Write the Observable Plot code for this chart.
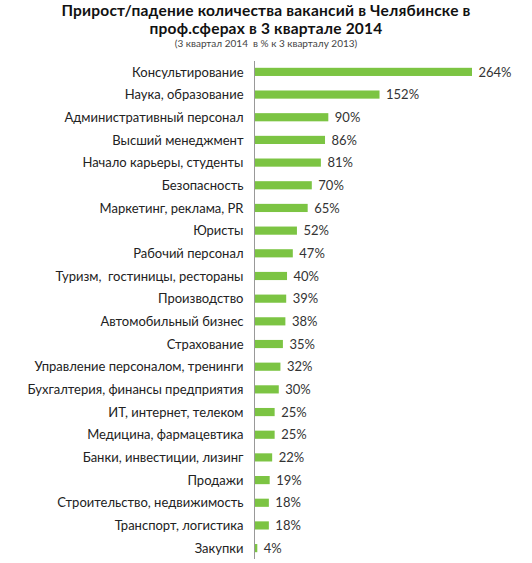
<!DOCTYPE html>
<html>
<head>
<meta charset="utf-8">
<script src="https://cdn.jsdelivr.net/npm/d3@7"></script>
<script src="https://cdn.jsdelivr.net/npm/@observablehq/plot@0.6"></script>
<style>
  body { margin: 0; background: #fff; font-family: Lato, "Open Sans", sans-serif; }
  #head { width: 532px; height: 52px; text-align: center; color: #111; }
  #head .t { font-weight: bold; font-size: 15.5px; line-height: 18px; letter-spacing: 0.2px; }
  #head .t1 { padding-top: 1px; }
  #head .s { font-size: 10px; color: #444; line-height: 12px; }
</style>
</head>
<body>
<div id="head">
  <div class="t t1">Прирост/падение количества вакансий в Челябинске в</div>
  <div class="t">проф.сферах в 3 квартале 2014</div>
  <div class="s">(3 квартал 2014&nbsp; в % к 3 кварталу 2013)</div>
</div>
<div id="chart"></div>
<script>
// профсферы, сверху вниз
const spheres = [
  "Консультирование",
  "Наука, образование",
  "Административный персонал",
  "Высший менеджмент",
  "Начало карьеры, студенты",
  "Безопасность",
  "Маркетинг, реклама, PR",
  "Юристы",
  "Рабочий персонал",
  "Туризм,  гостиницы, рестораны",
  "Производство",
  "Автомобильный бизнес",
  "Страхование",
  "Управление персоналом, тренинги",
  "Бухгалтерия, финансы предприятия",
  "ИТ, интернет, телеком",
  "Медицина, фармацевтика",
  "Банки, инвестиции, лизинг",
  "Продажи",
  "Строительство, недвижимость",
  "Транспорт, логистика",
  "Закупки"
];
// прирост, %
const growth = [264, 152, 90, 86, 81, 70, 65, 52, 47, 40, 39, 38, 35, 32, 30, 25, 25, 22, 19, 18, 18, 4];

const data = spheres.map((name, i) => ({name, value: growth[i]}));

const chart = Plot.plot({
  width: 532,
  height: 509,
  marginLeft: 254,
  marginRight: 60,
  marginTop: 9,
  marginBottom: 2,
  style: {fontFamily: "Lato, 'Open Sans', sans-serif", color: "#222"},
  x: {domain: [0, 264], axis: null},
  y: {domain: spheres, paddingInner: 0.64, paddingOuter: 0.3, round: false, label: null},
  marks: [
    Plot.axisY({tickSize: 0, tickPadding: 11, fontSize: 13, label: null}),
    Plot.barX(data, {x: "value", y: "name", fill: "#7cc443"}),
    Plot.ruleX([0], {stroke: "#999"}),
    Plot.text(data, {x: "value", y: "name", text: d => d.value + "%", textAnchor: "start", dx: 6, fontSize: 13, fill: "#333"})
  ]
});
document.getElementById("chart").append(chart);
</script>
</body>
</html>
